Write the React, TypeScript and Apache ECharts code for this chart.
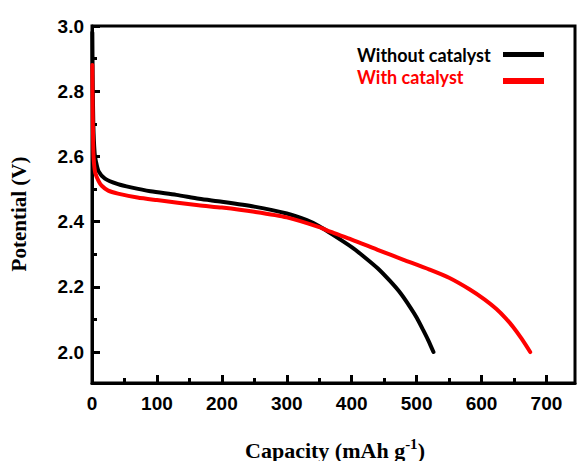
import React, { useEffect, useRef } from "react";
import * as echarts from "echarts";

const withoutCapacity = [0.5, 1, 2, 4, 6, 10, 20, 40, 60, 90, 130, 165, 200, 250, 300, 330, 350, 367, 400, 418, 440, 459, 475, 490, 500, 510, 518, 526];
const withoutPotential = [2.98, 2.85, 2.7, 2.61, 2.585, 2.555, 2.532, 2.515, 2.505, 2.493, 2.482, 2.47, 2.461, 2.446, 2.425, 2.405, 2.386, 2.365, 2.322, 2.294, 2.257, 2.218, 2.181, 2.138, 2.106, 2.068, 2.036, 2.0];

const withCapacity = [0.5, 1, 2, 3, 5, 10, 15, 25, 40, 70, 100, 164, 200, 250, 300, 350, 367, 400, 443, 480, 520, 550, 582, 605, 623, 637, 649, 662, 675];
const withPotential = [2.88, 2.75, 2.62, 2.58, 2.55, 2.525, 2.51, 2.495, 2.486, 2.474, 2.466, 2.45, 2.443, 2.43, 2.413, 2.383, 2.369, 2.345, 2.311, 2.283, 2.253, 2.228, 2.192, 2.161, 2.132, 2.104, 2.076, 2.04, 2.0];

const xMajorTicks = [0, 100, 200, 300, 400, 500, 600, 700];
const xMinorTicks = [50, 150, 250, 350, 450, 550, 650];
const yMajorTicks = [2.0, 2.2, 2.4, 2.6, 2.8, 3.0];
const yMinorTicks = [2.1, 2.3, 2.5, 2.7, 2.9];

const seriesNames = ["Without catalyst", "With catalyst"];
const xTitle = "Capacity (mAh g";
const yTitle = "Potential (V)";

const X_MIN = 0;
const X_MAX = 744;
const Y_MIN = 1.905;
const Y_MAX = 3.0;

export default function App() {
  const ref = useRef<HTMLDivElement>(null);

  useEffect(() => {
    document.body.style.margin = "0";
    if (!ref.current) return;
    const chart = echarts.init(ref.current, null, { renderer: "svg" });

    const labelFont = {
      fontFamily: "Liberation Sans",
      fontWeight: "bold" as const,
      fontSize: 19,
      color: "#000",
    };

    const baseX = {
      type: "value" as const,
      min: X_MIN,
      max: X_MAX,
      splitLine: { show: false },
    };
    const baseY = {
      type: "value" as const,
      min: Y_MIN,
      max: Y_MAX,
      splitLine: { show: false },
    };

    chart.setOption({
      animation: false,
      grid: {
        left: 92,
        right: 4,
        top: 26,
        bottom: 78,
        show: true,
        borderColor: "#000",
        borderWidth: 3,
      },
      xAxis: [
        {
          ...baseX,
          axisLine: { show: true, lineStyle: { color: "#000", width: 3 } },
          axisTick: {
            show: true,
            inside: true,
            length: 8,
            customValues: xMajorTicks,
            lineStyle: { color: "#000", width: 3 },
          },
          axisLabel: {
            ...labelFont,
            margin: 11,
            customValues: xMajorTicks,
          },
        },
        {
          ...baseX,
          position: "bottom",
          axisLine: { show: false },
          axisTick: {
            show: true,
            inside: true,
            length: 5,
            customValues: xMinorTicks,
            lineStyle: { color: "#000", width: 3 },
          },
          axisLabel: { show: false },
        },
      ],
      yAxis: [
        {
          ...baseY,
          axisLine: { show: true, lineStyle: { color: "#000", width: 3 } },
          axisTick: {
            show: true,
            inside: true,
            length: 8,
            customValues: yMajorTicks,
            lineStyle: { color: "#000", width: 3 },
          },
          axisLabel: {
            ...labelFont,
            margin: 8,
            customValues: yMajorTicks,
            formatter: (v: number) => v.toFixed(1),
          },
        },
        {
          ...baseY,
          position: "left",
          axisLine: { show: false },
          axisTick: {
            show: true,
            inside: true,
            length: 5,
            customValues: yMinorTicks,
            lineStyle: { color: "#000", width: 3 },
          },
          axisLabel: { show: false },
        },
      ],
      series: [
        {
          name: seriesNames[0],
          type: "line",
          xAxisIndex: 0,
          yAxisIndex: 0,
          showSymbol: false,
          smooth: 0.25,
          lineStyle: { color: "#000", width: 4, join: "round", cap: "round" },
          data: withoutCapacity.map((c, i) => [c, withoutPotential[i]]),
        },
        {
          name: seriesNames[1],
          type: "line",
          xAxisIndex: 0,
          yAxisIndex: 0,
          showSymbol: false,
          smooth: 0.25,
          lineStyle: { color: "#ff0000", width: 4, join: "round", cap: "round" },
          data: withCapacity.map((c, i) => [c, withPotential[i]]),
        },
      ],
      graphic: [
        {
          type: "text",
          x: 357,
          y: 55,
          style: {
            text: seriesNames[0],
            fill: "#000",
            font: "bold 18px Lato",
            textVerticalAlign: "middle",
          },
        },
        {
          type: "rect",
          shape: { x: 503, y: 52, width: 41, height: 5 },
          style: { fill: "#000" },
        },
        {
          type: "text",
          x: 357,
          y: 77,
          style: {
            text: seriesNames[1],
            fill: "#ff0000",
            font: "bold 18px Lato",
            textVerticalAlign: "middle",
          },
        },
        {
          type: "rect",
          shape: { x: 503, y: 78, width: 41, height: 6 },
          style: { fill: "#ff0000" },
        },
        {
          type: "text",
          x: 19,
          y: 214,
          rotation: Math.PI / 2,
          style: {
            text: yTitle,
            fill: "#000",
            font: "bold 21px 'Liberation Serif'",
            textAlign: "center",
            textVerticalAlign: "middle",
          },
        },
        {
          type: "text",
          x: 335,
          y: 450,
          style: {
            text: "{a|" + xTitle + "}{s|-1}{a|)}",
            textAlign: "center",
            textVerticalAlign: "middle",
            rich: {
              a: {
                fontFamily: "Liberation Serif",
                fontWeight: "bold",
                fontSize: 22,
                fill: "#000",
                color: "#000",
              },
              s: {
                fontFamily: "Liberation Serif",
                fontWeight: "bold",
                fontSize: 15,
                fill: "#000",
                color: "#000",
                padding: [0, 0, 13, 0],
              },
            },
          },
        },
      ],
    });

    return () => chart.dispose();
  }, []);

  return <div ref={ref} style={{ width: 579, height: 461 }} />;
}
